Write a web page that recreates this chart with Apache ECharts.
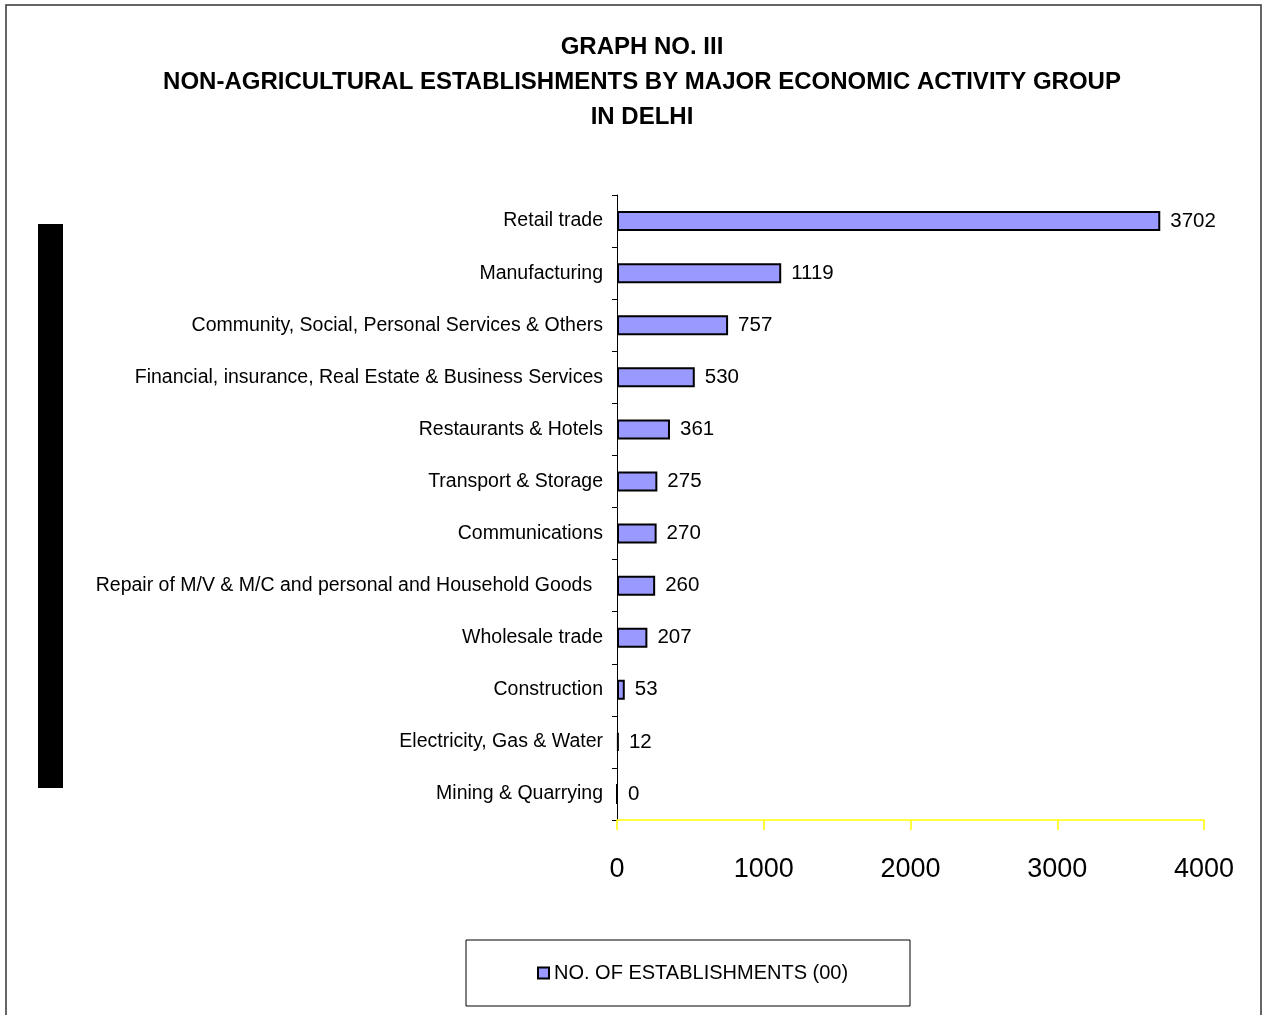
<!DOCTYPE html>
<html><head><meta charset="utf-8">
<script src="https://cdn.jsdelivr.net/npm/echarts@6/dist/echarts.min.js"></script>
<style>html,body{margin:0;padding:0;background:#fff}#c{width:1263px;height:1015px}</style>
</head><body><div id="c"></div>
<script>
const categories = ["Retail trade","Manufacturing","Community, Social, Personal Services & Others","Financial, insurance, Real Estate & Business Services","Restaurants & Hotels","Transport & Storage","Communications","Repair of M/V & M/C and personal and Household Goods  ","Wholesale trade","Construction","Electricity, Gas & Water","Mining & Quarrying"];
const values = [3702,1119,757,530,361,275,270,260,207,53,12,0];
const xTicks = [0,1000,2000,3000,4000];
const seriesName = "NO. OF ESTABLISHMENTS (00)";
const titleLines = ["GRAPH NO. III","NON-AGRICULTURAL ESTABLISHMENTS BY MAJOR ECONOMIC ACTIVITY GROUP","IN DELHI"];

const F = '"Liberation Sans Narrow","Arial Narrow","Liberation Sans",Arial,sans-serif';
const chart = echarts.init(document.getElementById('c'));
chart.setOption({
  animation:false,
  backgroundColor:'#fff',
  title:{text:titleLines.join('\n'),left:637,textAlign:'center',top:25,
    textStyle:{fontFamily:F,fontWeight:'bold',fontSize:24,lineHeight:35,color:'#000'}},
  grid:{left:617,right:59,top:195,bottom:195},
  xAxis:{type:'value',min:xTicks[0],max:xTicks[xTicks.length-1],interval:1000,
    axisLine:{show:true,lineStyle:{color:'#ffff00',width:1.5}},
    axisTick:{show:true,length:10,lineStyle:{color:'#ffff00',width:1.5}},
    splitLine:{show:false},
    axisLabel:{fontFamily:F,fontSize:27,color:'#000',margin:36,formatter:function(v){return String(v);}}},
  yAxis:{type:'category',data:categories,inverse:true,
    axisLine:{lineStyle:{color:'#000',width:1}},
    axisTick:{show:true,length:5,inside:false,lineStyle:{color:'#000'}},
    axisLabel:{fontFamily:F,fontSize:19.5,color:'#000',margin:14}},
  legend:{data:[seriesName],left:532,top:958,itemWidth:11,itemHeight:11,icon:'rect',
    textStyle:{fontFamily:F,fontSize:20,color:'#000'}},
  series:[{name:seriesName,type:'bar',data:values,barWidth:20,
    itemStyle:{color:'#9999ff',borderColor:'#000',borderWidth:2},
    label:{show:true,position:'right',distance:10,fontFamily:F,fontSize:20.5,color:'#000'}}],
  graphic:[
    {type:'rect',shape:{x:6,y:5,width:1255,height:1030},style:{fill:'none',stroke:'#333',lineWidth:1.5},silent:true},
    {type:'rect',shape:{x:38,y:224,width:25,height:564},style:{fill:'#000'},silent:true},
    {type:'rect',shape:{x:466,y:940,width:444,height:66},style:{fill:'none',stroke:'#000',lineWidth:1},silent:true}
  ]
});
</script></body></html>
